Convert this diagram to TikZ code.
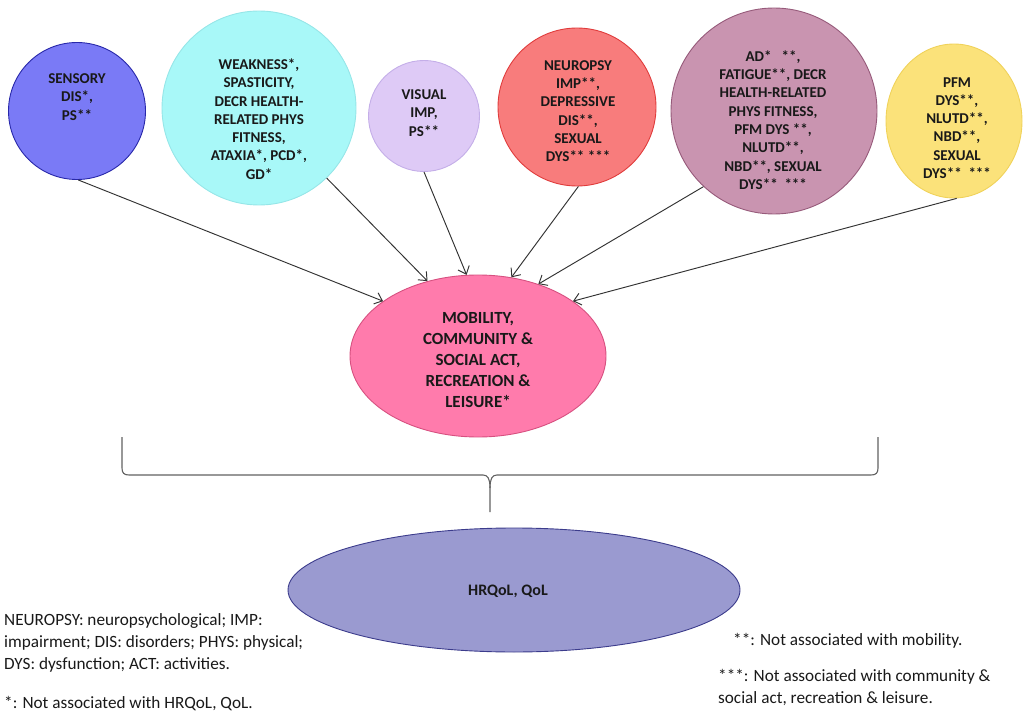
\documentclass[tikz,border=0pt]{standalone}
\usepackage{fontspec}
\setmainfont{Carlito}
\usetikzlibrary{arrows.meta,shapes.geometric}

\definecolor{sensfill}{RGB}{122,122,246}
\definecolor{sensdraw}{RGB}{40,40,170}
\definecolor{cyanfill}{RGB}{168,248,248}
\definecolor{cyandraw}{RGB}{150,230,232}
\definecolor{visfill}{RGB}{222,202,246}
\definecolor{visdraw}{RGB}{196,174,232}
\definecolor{redfill}{RGB}{248,124,124}
\definecolor{reddraw}{RGB}{224,60,60}
\definecolor{mauvefill}{RGB}{201,148,176}
\definecolor{mauvedraw}{RGB}{150,90,122}
\definecolor{yelfill}{RGB}{251,226,122}
\definecolor{yeldraw}{RGB}{240,210,90}
\definecolor{pinkfill}{RGB}{255,123,172}
\definecolor{pinkdraw}{RGB}{215,80,128}
\definecolor{hrqfill}{RGB}{154,154,208}
\definecolor{hrqdraw}{RGB}{60,60,140}
\definecolor{inktext}{RGB}{25,25,25}

\tikzset{
  blob/.style={circle, inner sep=0pt, line width=0.9pt},
  oval/.style={ellipse, inner sep=0pt, line width=0.9pt},
  ctext/.style={align=center, text=inktext, inner sep=0pt,
    font=\fontsize{15}{18.3}\selectfont\bfseries},
  btext/.style={align=center, text=inktext, inner sep=0pt,
    font=\fontsize{17}{20.8}\selectfont\bfseries},
  legend/.style={align=left, text=inktext, inner sep=0pt,
    font=\fontsize{17.2}{22}\selectfont},
  feed/.style={draw=black!80, line width=0.95pt,
    -{Straight Barb[length=7pt,width=12pt]}},
}

\begin{document}
\begin{tikzpicture}[x=1pt,y=-1pt]
\useasboundingbox (0,0) rectangle (1025,711);

% impairment circles
\node[blob, fill=sensfill, draw=sensdraw, minimum size=137pt] (sens) at (77,111) {};
\node[ctext] (senst) at (77,97) {SENSORY\\DIS*,\\PS**};

\node[blob, fill=cyanfill, draw=cyandraw, minimum size=194pt] (weak) at (259,108) {};
\node[ctext] (weakt) at (259,119) {WEAKNESS*,\\SPASTICITY,\\DECR HEALTH-\\RELATED PHYS\\FITNESS,\\ATAXIA*, PCD*,\\GD*};

\node[blob, fill=visfill, draw=visdraw, minimum size=111pt] (vis) at (424,116) {};
\node[ctext] (vist) at (424,113) {VISUAL\\IMP,\\PS**};

\node[blob, fill=redfill, draw=reddraw, minimum size=158pt] (neuro) at (577,107) {};
\node[ctext] (neurot) at (578,111) {NEUROPSY\\IMP**,\\DEPRESSIVE\\DIS**,\\SEXUAL\\DYS** ***};

\node[blob, fill=mauvefill, draw=mauvedraw, minimum size=206pt] (fat) at (774,111) {};
\node[ctext] (fatt) at (773,120) {AD*\ \ \ **,\\FATIGUE**, DECR\\HEALTH-RELATED\\PHYS FITNESS,\\PFM DYS **,\\NLUTD**,\\NBD**, SEXUAL\\DYS**\ \ ***};

\node[oval, fill=yelfill, draw=yeldraw, minimum width=136pt, minimum height=154pt] (pfm) at (954,121) {};
\node[ctext] (pfmt) at (957,128) {PFM\\DYS**,\\NLUTD**,\\NBD**,\\SEXUAL\\DYS**\ \ ***};

% activity domain
\node[oval, fill=pinkfill, draw=pinkdraw, minimum width=256pt, minimum height=162pt] (mob) at (478,356) {};
\node[btext] (mobt) at (478,360) {MOBILITY,\\COMMUNITY \&\\SOCIAL ACT,\\RECREATION \&\\LEISURE*};

% quality of life
\node[oval, fill=hrqfill, draw=hrqdraw, minimum width=452pt, minimum height=124pt] (hrq) at (514,590) {};
\node[btext, font=\fontsize{16}{20}\selectfont\bfseries] (hrqt) at (508,591) {HRQoL, QoL};

% impairments feeding the activity domain
\draw[feed] (sens.-89)   -- (mob.150);
\draw[feed] (weak.-46)   -- (mob.124);
\draw[feed] (vis.-90)    -- (mob.98);
\draw[feed] (neuro.-89)  -- (mob.67);
\draw[feed] (fat.-133)   -- (mob.50);
\draw[feed] (pfm.-88)    -- (mob.30);

% brace gathering the domain into quality of life
\draw[black!62, line width=1.1pt, line join=round]
  (122,437) -- (122,468) .. controls (122,473) and (124,475) .. (129,475)
  -- (483,475) .. controls (488,475) and (490,479) .. (490,488) -- (490,512);
\draw[black!62, line width=1.1pt, line join=round]
  (878,437) -- (878,468) .. controls (878,473) and (876,475) .. (871,475)
  -- (497,475) .. controls (492,475) and (490,479) .. (490,488);

% abbreviations and footnotes (base anchor sits on the last line)
\node[legend, anchor=base west] (abbr) at (4,669)
  {NEUROPSY: neuropsychological; IMP:\\impairment; DIS: disorders; PHYS: physical;\\DYS: dysfunction; ACT: activities.};
\node[legend, anchor=base west] (note1) at (4,708) {*: Not associated with HRQoL, QoL.};
\node[legend, anchor=base west] (note2) at (733,645) {**: Not associated with mobility.};
\node[legend, anchor=base west] (note3) at (718,703)
  {***: Not associated with community \&\\social act, recreation \& leisure.};
\end{tikzpicture}
\end{document}
